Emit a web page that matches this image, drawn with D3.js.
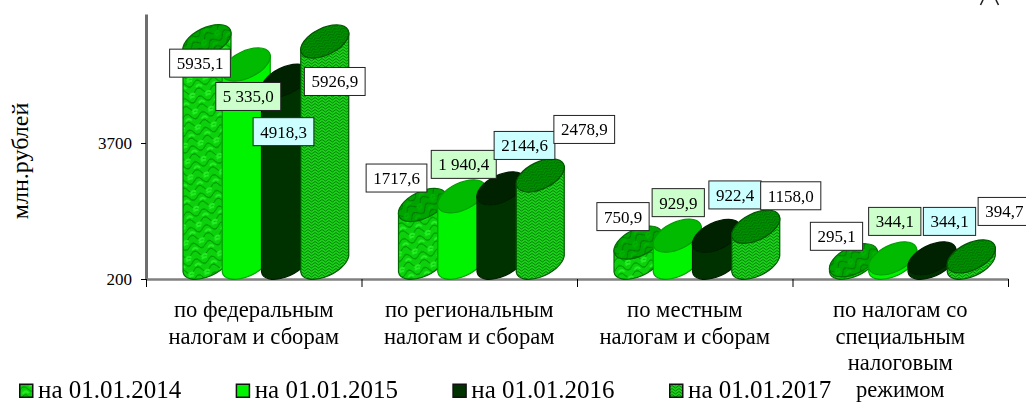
<!DOCTYPE html>
<html>
<head>
<meta charset="utf-8">
<script src="https://cdn.jsdelivr.net/npm/d3@7/dist/d3.min.js"></script>
<style>
  html, body { margin: 0; background: #fff; overflow: hidden; }
  text { font-family: "Liberation Serif", serif; fill: #000; }
</style>
</head>
<body>
<svg id="chart" width="1026" height="403"></svg>
<script>
const categories = [
  "по федеральным|налогам и сборам",
  "по региональным|налогам и сборам",
  "по местным|налогам и сборам",
  "по налогам со|специальным|налоговым|режимом"
];
const seriesNames = ["на 01.01.2014", "на 01.01.2015", "на 01.01.2016", "на 01.01.2017"];
const values2014 = ["5935,1", "1717,6", "750,9", "295,1"];
const values2015 = ["5 335,0", "1 940,4", "929,9", "344,1"];
const values2016 = ["4918,3", "2144,6", "922,4", "344,1"];
const values2017 = ["5926,9", "2478,9", "1158,0", "394,7"];
const yTicks = [200, 3700];
const yTop = 7020;

// hand placed label boxes, offset from the top of each cylinder [dx, dy]
const labelNudge = [
  [[-7, 22], [2, 32], [-2, 51], [10, 40]],
  [[-26, -27], [2, -32], [23.5, -43], [44, -46]],
  [[-15, -26], [1, -33], [18.5, -41], [35, -31]],
  [[-17, -24], [2, -37], [17.5, -37], [33, -45]]
];

const allValues = [values2014, values2015, values2016, values2017];
const num = (s) => +s.replace(" ", "").replace(",", ".");

const svg = d3.select("#chart");
const defs = svg.append("defs");

defs.append("filter").attr("id", "soft")
  .append("feGaussianBlur").attr("stdDeviation", 0.55);

// braided texture for 2014
function braid(id, base, line, light) {
  const p = defs.append("pattern").attr("id", id)
    .attr("patternUnits", "userSpaceOnUse")
    .attr("width", 16).attr("height", 16)
    .attr("patternTransform", "rotate(-10)");
  p.append("rect").attr("width", 16).attr("height", 16).attr("fill", base);
  p.append("path")
    .attr("d", "M0 4 Q4 -2 8 4 Q12 10 16 4 M0 12 Q4 6 8 12 Q12 18 16 12")
    .attr("fill", "none").attr("stroke", line).attr("stroke-width", 1);
  p.append("path")
    .attr("d", "M2 8 Q5 4 8 8 M10 16 Q13 12 16 15 M10 2 Q12 0 15 1")
    .attr("fill", "none").attr("stroke", light).attr("stroke-width", 2);
}
// fine weave for 2017
function weave(id, base, line) {
  const p = defs.append("pattern").attr("id", id)
    .attr("patternUnits", "userSpaceOnUse")
    .attr("width", 7).attr("height", 6);
  p.append("rect").attr("width", 7).attr("height", 6).attr("fill", base);
  p.append("path")
    .attr("d", "M0 1.5 L3.5 4 L7 1.5 M0 4.5 L3.5 7 L7 4.5 M0 -1.5 L3.5 1 L7 -1.5")
    .attr("fill", "none").attr("stroke", line).attr("stroke-width", 0.9);
}
braid("tex14", "#08d008", "#008a00", "#28f028");
braid("tex14top", "#00a400", "#006c00", "#00b400");
weave("tex17", "#1cd01c", "#007a00");
weave("tex17top", "#009400", "#006000");

const seriesFill = ["url(#tex14)", "#00f400", "#003300", "url(#tex17)"];
const seriesTop = ["url(#tex14top)", "#00bb00", "#002200", "url(#tex17top)"];
const seriesEdge = ["#006a00", "#00a000", "#001f00", "#005500"];
const boxFill = ["#fff", "#ccffcc", "#ccffff", "#fff"];

const x0 = d3.scaleBand().domain(d3.range(categories.length)).range([146, 1008]);
const x1 = d3.scaleBand().domain(d3.range(seriesNames.length)).range([37, 194]);
const y = d3.scaleLinear().domain([200, yTop]).range([279, 14]);

// cylinder: two tilted ellipses, floor lifted for the 3d look
const rx = 26, ry = 13.4, tilt = -26, lift = 15;
const halfW = 24, edgeDy = 8;
const cylWidth = 48;

function cylPath(cx, top, bottom) {
  return `M${cx - halfW},${top + edgeDy} L${cx - halfW},${bottom + edgeDy}` +
    ` A${rx},${ry} ${tilt} 0 0 ${cx + halfW},${bottom - edgeDy}` +
    ` L${cx + halfW},${top - edgeDy}` +
    ` A${rx},${ry} ${tilt} 0 0 ${cx - halfW},${top + edgeDy} Z`;
}

// axes
const yAxis = svg.append("g").attr("transform", "translate(146,0)")
  .call(d3.axisLeft(y).tickValues(yTicks).tickSizeInner(5).tickSizeOuter(0).tickPadding(9).tickFormat(d3.format("d")));
yAxis.select(".domain").attr("stroke", "#6e6e6e").attr("stroke-width", 3);
yAxis.selectAll("text").style("font-size", "17px").style("font-family", '"Liberation Serif", serif').attr("fill", "#000");

const xAxis = svg.append("g").attr("transform", "translate(0,279)")
  .call(d3.axisBottom(d3.scaleLinear().domain([0, 4]).range([146, 1008]))
    .ticks(4).tickSizeInner(8).tickSizeOuter(0).tickFormat(""));
xAxis.select(".domain").attr("stroke", "#808080").attr("stroke-width", 2.5);

// cylinders
const marks = svg.append("g").attr("filter", "url(#soft)");
categories.forEach((cat, c) => {
  seriesNames.forEach((name, s) => {
    const v = num(allValues[s][c]);
    const cx = x0(c) + x1(s) + cylWidth / 2;
    const top = y(v) - lift;
    const bottom = y(200) - lift;
    marks.append("path")
      .attr("d", cylPath(cx, top, bottom))
      .attr("fill", seriesFill[s])
      .attr("stroke", seriesEdge[s]).attr("stroke-width", 1.2);
    marks.append("ellipse")
      .attr("rx", rx).attr("ry", ry)
      .attr("transform", `translate(${cx},${top}) rotate(${tilt})`)
      .attr("fill", seriesTop[s])
      .attr("stroke", seriesEdge[s]).attr("stroke-width", 1.2);
  });
});

// value labels
categories.forEach((cat, c) => {
  seriesNames.forEach((name, s) => {
    const str = allValues[s][c];
    const cx = x0(c) + x1(s) + cylWidth / 2 + labelNudge[c][s][0];
    const cy = y(num(str)) - lift + labelNudge[c][s][1];
    const g = svg.append("g");
    const rect = g.append("rect");
    const t = g.append("text").text(str)
      .attr("x", cx).attr("y", cy + 6)
      .attr("text-anchor", "middle")
      .style("font-size", "17px");
    const w = t.node().getComputedTextLength() + 14;
    rect.attr("x", cx - w / 2).attr("y", cy - 14).attr("width", w).attr("height", 28)
      .attr("fill", boxFill[s]).attr("stroke", "#222").attr("stroke-width", 1);
  });
});

// category labels
categories.forEach((cat, c) => {
  cat.split("|").forEach((line, i) => {
    svg.append("text").text(line)
      .attr("x", x0(c) + x0.bandwidth() / 2)
      .attr("y", 317 + i * 26.7)
      .attr("text-anchor", "middle")
      .style("font-size", "22.6px");
  });
});

// y title
svg.append("text").text("млн.рублей")
  .attr("transform", "translate(28,161) rotate(-90)")
  .attr("text-anchor", "middle")
  .style("font-size", "24px");

// legend
const legendX = d3.scaleLinear().domain([0, 3]).range([19, 669]);
seriesNames.forEach((name, s) => {
  const lx = legendX(s);
  svg.append("rect")
    .attr("x", lx + 0.75).attr("y", 384.25).attr("width", 13).attr("height", 13)
    .attr("fill", seriesFill[s])
    .attr("stroke", "#111").attr("stroke-width", 1.5);
  svg.append("text").text(name)
    .attr("x", lx + 19).attr("y", 397.5)
    .style("font-size", "25px");
});

// clipped letter at the top right corner of the source scan
svg.append("path")
  .attr("d", "M983,0 L980.5,5 M996,0 L998.5,5")
  .attr("fill", "none").attr("stroke", "#222").attr("stroke-width", 1.6);
</script>
</body>
</html>
